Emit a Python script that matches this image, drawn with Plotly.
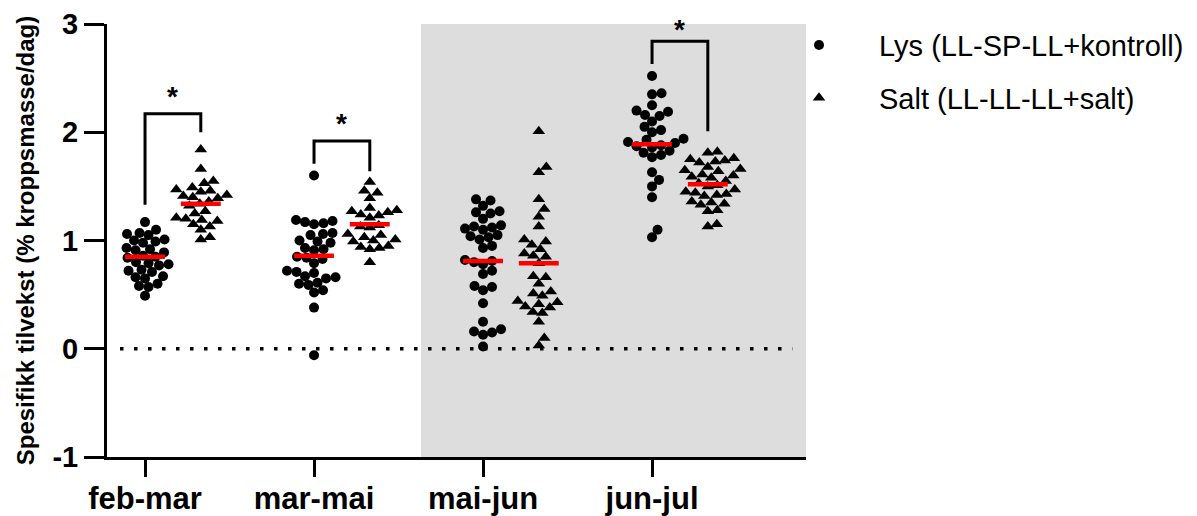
import plotly.graph_objects as go

categories = ["feb-mar", "mar-mai", "mai-jun", "jun-jul"]

lys_feb_mar = [1.17, 1.10, 1.07, 1.06, 1.05, 1.01, 1.00, 0.99, 0.98, 0.93, 0.92, 0.91, 0.89,
               0.86, 0.85, 0.84, 0.80, 0.79, 0.78, 0.77, 0.73, 0.72, 0.71, 0.67, 0.66, 0.65,
               0.60, 0.58, 0.57, 0.49]
salt_feb_mar = [1.84, 1.66, 1.55, 1.53, 1.49, 1.47, 1.46, 1.45, 1.42, 1.41, 1.40, 1.39, 1.36,
                1.34, 1.32, 1.27, 1.25, 1.21, 1.20, 1.19, 1.18, 1.15, 1.13, 1.10, 1.03, 1.01]
lys_mar_mai = [1.60, 1.19, 1.18, 1.17, 1.16, 1.15, 1.07, 1.06, 1.05, 1.00, 0.99, 0.98, 0.93,
               0.92, 0.91, 0.85, 0.84, 0.83, 0.79, 0.72, 0.71, 0.70, 0.67, 0.66, 0.65, 0.61,
               0.60, 0.59, 0.54, 0.52, 0.38, -0.06]
salt_mar_mai = [1.54, 1.46, 1.44, 1.39, 1.30, 1.28, 1.27, 1.26, 1.24, 1.23, 1.21, 1.14, 1.13,
                1.12, 1.06, 1.05, 1.03, 1.01, 1.00, 0.99, 0.95, 0.94, 0.93, 0.92, 0.80]
lys_mai_jun = [1.38, 1.37, 1.32, 1.27, 1.26, 1.25, 1.20, 1.14, 1.13, 1.12, 1.11, 1.10, 1.05,
               1.04, 1.03, 1.01, 0.95, 0.93, 0.82, 0.81, 0.80, 0.78, 0.72, 0.69, 0.58, 0.57,
               0.54, 0.42, 0.25, 0.18, 0.16, 0.15, 0.13, 0.02]
salt_mai_jun = [2.01, 1.68, 1.63, 1.38, 1.29, 1.22, 1.13, 1.01, 0.99, 0.96, 0.92, 0.88, 0.86,
                0.85, 0.79, 0.67, 0.66, 0.60, 0.53, 0.51, 0.49, 0.44, 0.43, 0.41, 0.39, 0.38,
                0.34, 0.33, 0.25, 0.10, 0.03]
lys_jun_jul = [2.52, 2.36, 2.35, 2.25, 2.20, 2.19, 2.16, 2.15, 2.10, 2.05, 2.02, 2.00, 1.94,
               1.93, 1.91, 1.90, 1.88, 1.87, 1.86, 1.83, 1.81, 1.79, 1.77, 1.63, 1.56, 1.50,
               1.40, 1.10, 1.03]
salt_jun_jul = [1.82, 1.81, 1.76, 1.75, 1.74, 1.73, 1.72, 1.68, 1.66, 1.65, 1.64, 1.61, 1.60,
                1.59, 1.58, 1.55, 1.53, 1.51, 1.50, 1.47, 1.45, 1.44, 1.43, 1.42, 1.41, 1.36,
                1.35, 1.34, 1.33, 1.28, 1.27, 1.15, 1.13]

lys_groups = [lys_feb_mar, lys_mar_mai, lys_mai_jun, lys_jun_jul]
salt_groups = [salt_feb_mar, salt_mar_mai, salt_mai_jun, salt_jun_jul]

lys_center_line = [0.85, 0.86, 0.81, 1.89]
salt_center_line = [1.34, 1.15, 0.79, 1.52]

# significance brackets: (group index, top, left leg end, right leg end, star y)
sig_brackets = [(0, 2.17, 1.33, 2.00, 2.33),
                (1, 1.92, 1.71, 1.64, 2.08),
                (3, 2.84, 2.63, 2.01, 2.95)]

y_ticks = [-1, 0, 1, 2, 3]

SALT_OFFSET = 0.33
PX_PER_X = 169.0
PX_PER_Y = 108.4
FONT = "Arial, Liberation Sans, sans-serif"


def swarm(values, center, d=9.2):
    placed = []
    res = [0.0] * len(values)
    order = sorted(range(len(values)), key=lambda i: values[i])
    for i in order:
        y = values[i] * PX_PER_Y
        best = 0
        found = False
        for k in range(0, 80):
            for s in ([0] if k == 0 else [k * 0.5, -k * 0.5]):
                if all((s - px) ** 2 + (y - py) ** 2 >= d * d for px, py in placed):
                    best = s
                    found = True
                    break
            if found:
                break
        placed.append((best, y))
        res[i] = center + best / PX_PER_X
    return res


fig = go.Figure()

lx, ly, sx, sy = [], [], [], []
for gi in range(len(categories)):
    lx += swarm(lys_groups[gi], gi)
    ly += lys_groups[gi]
    sx += swarm(salt_groups[gi], gi + SALT_OFFSET)
    sy += salt_groups[gi]

fig.add_trace(go.Scatter(x=lx, y=ly, mode="markers", name="Lys (LL-SP-LL+kontroll)",
                         marker=dict(symbol="circle", size=10, color="black"),
                         legendgroup="a"))
fig.add_trace(go.Scatter(x=sx, y=sy, mode="markers", name="Salt (LL-LL-LL+salt)",
                         marker=dict(symbol="triangle-up", size=11, color="black"),
                         legendgroup="b"))

shapes = []
# grey shaded period
shapes.append(dict(type="rect", xref="x", yref="y domain", x0=1.633, x1=3.911, y0=0, y1=1,
                   fillcolor="#dddddd", line=dict(width=0), layer="below"))
# dotted zero line
shapes.append(dict(type="line", xref="x", yref="y", x0=-0.148, x1=3.83, y0=0, y1=0,
                   line=dict(color="black", width=3.5, dash="3.5px,10.5px"), layer="below"))
# center lines
for gi in range(len(categories)):
    for c, v in ((gi, lys_center_line[gi]), (gi + SALT_OFFSET, salt_center_line[gi])):
        shapes.append(dict(type="line", xref="x", yref="y", x0=c - 0.118, x1=c + 0.118,
                           y0=v, y1=v, line=dict(color="#ff0000", width=4.5), layer="above"))
annotations = []
for gi, top, lb, rb, sy_ in sig_brackets:
    x0 = gi
    x1 = gi + SALT_OFFSET
    shapes.append(dict(type="path", xref="x", yref="y",
                       path=f"M {x0} {lb} L {x0} {top} L {x1} {top} L {x1} {rb}",
                       line=dict(color="black", width=3), layer="above"))
    annotations.append(dict(x=(x0 + x1) / 2, y=sy_, xref="x", yref="y", text="*",
                            showarrow=False, font=dict(family=FONT, size=28, color="black",
                                                      weight="bold"),
                            yanchor="middle"))

fig.update_layout(
    template="none",
    width=1197, height=516,
    margin=dict(l=99, r=399, t=16, b=67, autoexpand=False),
    plot_bgcolor="white", paper_bgcolor="white",
    shapes=shapes, annotations=annotations,
    font=dict(family=FONT, color="black"),
    showlegend=True,
    legend=dict(x=0.9328, y=1.01, xanchor="left", yanchor="top",
                font=dict(family=FONT, size=29, color="black"),
                tracegroupgap=12, itemwidth=110, traceorder="grouped",
                bgcolor="rgba(0,0,0,0)", borderwidth=0),
    xaxis=dict(range=[-0.225, 3.911], tickmode="array", automargin=False,
               tickvals=list(range(len(categories))), ticktext=categories,
               showline=True, linecolor="black", linewidth=3, ticks="outside",
               ticklen=17, tickwidth=3, tickcolor="black", showgrid=False, zeroline=False,
               ticklabelstandoff=-5,
               tickfont=dict(family=FONT, size=31, color="black", weight="bold")),
    yaxis=dict(range=[-1, 3], tickmode="array", tickvals=y_ticks, automargin=False,
               ticktext=[str(t) for t in y_ticks],
               showline=True, linecolor="black", linewidth=3, ticks="outside",
               ticklen=20, tickwidth=3, tickcolor="black", showgrid=False, zeroline=False,
               tickfont=dict(family=FONT, size=29, color="black", weight="bold"),
               title=dict(text="Spesifikk tilvekst (% kroppsmasse/dag)", standoff=12,
                          font=dict(family=FONT, size=24, color="black", weight="bold"))),
)

fig.write_html("out.html")
